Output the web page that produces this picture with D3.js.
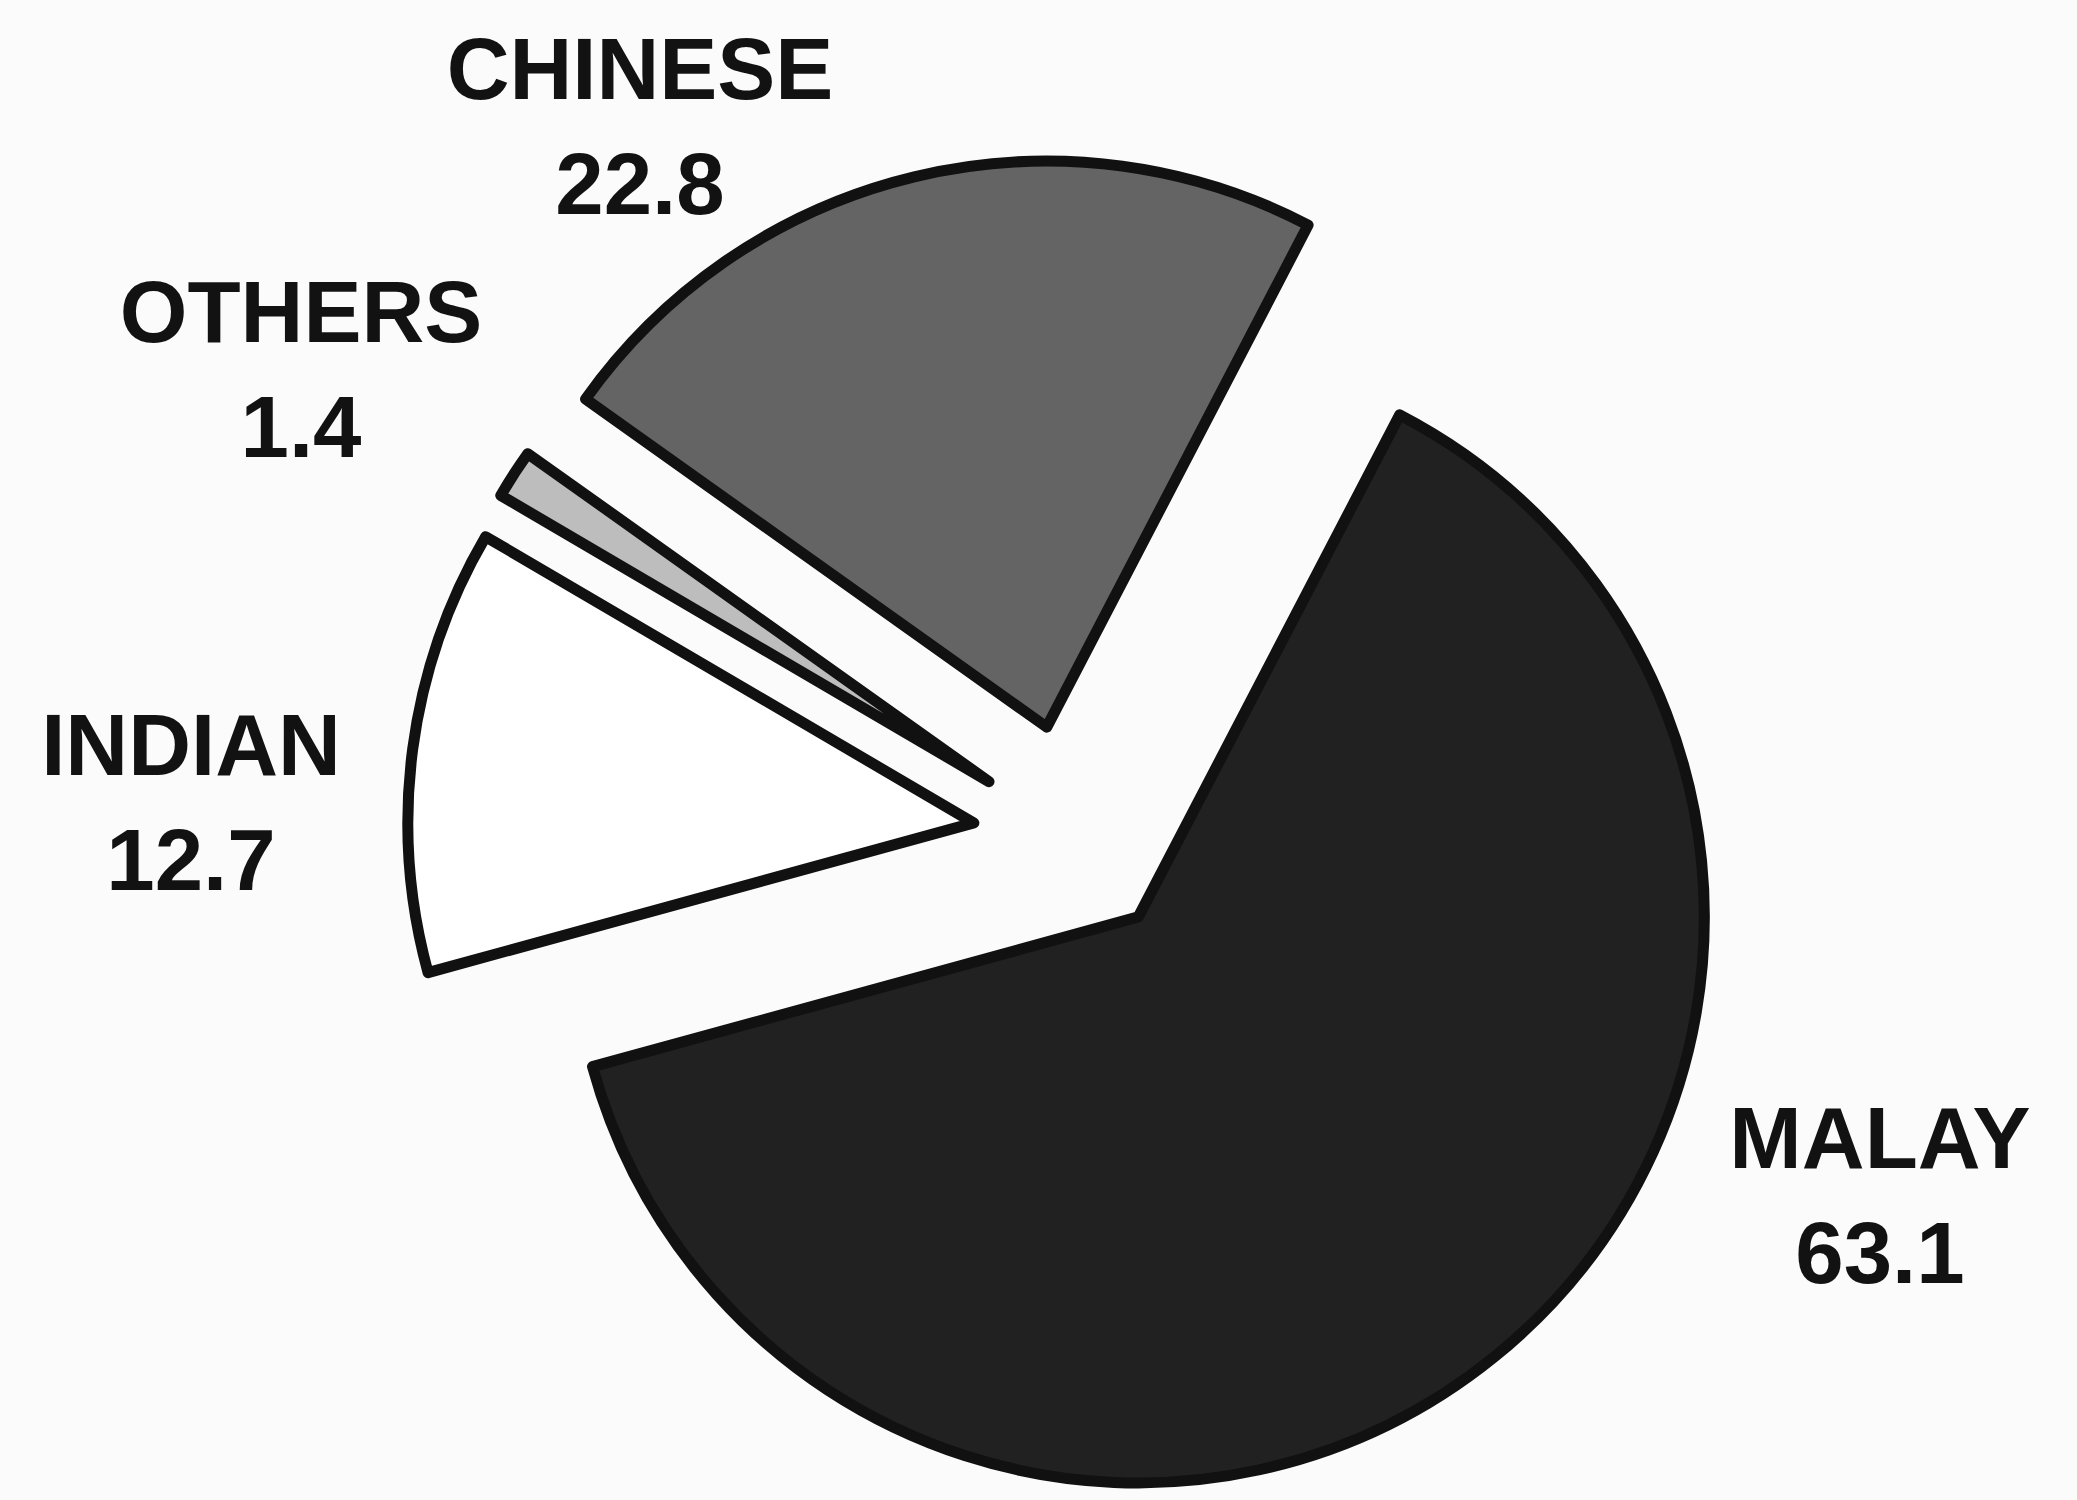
<!DOCTYPE html>
<html>
<head>
<meta charset="utf-8">
<script src="https://cdn.jsdelivr.net/npm/d3@7"></script>
<style>
  html, body { margin: 0; padding: 0; background: #fbfbfb; }
  svg { display: block; }
</style>
</head>
<body>
<svg id="chart" width="2077" height="1500"></svg>
<script>
// ---- data ----
const categories  = ["MALAY", "INDIAN", "OTHERS", "CHINESE"];
const values      = [63.1, 12.7, 1.4, 22.8];
const valueLabels = ["63.1", "12.7", "1.4", "22.8"];

// ---- styling / layout ----
const fills    = ["#212121", "#ffffff", "#bdbdbd", "#646464"];
const explode  = [104, 100, 100, 112];
const labelAnchor = [
  { x: 1880, y: 1168 },
  { x: 191,  y: 775  },
  { x: 301,  y: 342  },
  { x: 640,  y: 99   }
];
const lineGap = 115;

const W = 2077, H = 1500;
const cx = 1073, cy = 836, R = 566;
const start = 27.5 * Math.PI / 180;

const svg = d3.select("#chart");
svg.append("rect").attr("width", W).attr("height", H).attr("fill", "#fbfbfb");

const pie = d3.pie().sort(null).value(d => d)
  .startAngle(start).endAngle(start + 2 * Math.PI);
const arc = d3.arc().innerRadius(0).outerRadius(R);

const arcs = pie(values);

const g = svg.append("g").attr("transform", `translate(${cx},${cy})`);

g.selectAll("path.slice")
  .data(arcs)
  .join("path")
  .attr("class", "slice")
  .attr("d", arc)
  .attr("transform", (d, i) => {
    const m = (d.startAngle + d.endAngle) / 2;
    return `translate(${Math.sin(m) * explode[i]},${-Math.cos(m) * explode[i]})`;
  })
  .attr("fill", (d, i) => fills[i])
  .attr("stroke", "#111")
  .attr("stroke-width", 11)
  .attr("stroke-linejoin", "round");

const labels = svg.append("g")
  .attr("font-family", "'Liberation Sans', Arial, Helvetica, sans-serif")
  .attr("font-weight", "bold")
  .attr("font-size", 87)
  .attr("fill", "#121212")
  .attr("text-anchor", "middle");

categories.forEach((c, i) => {
  const a = labelAnchor[i];
  labels.append("text").attr("x", a.x).attr("y", a.y).text(c);
  labels.append("text").attr("x", a.x).attr("y", a.y + lineGap).text(valueLabels[i]);
});
</script>
</body>
</html>
